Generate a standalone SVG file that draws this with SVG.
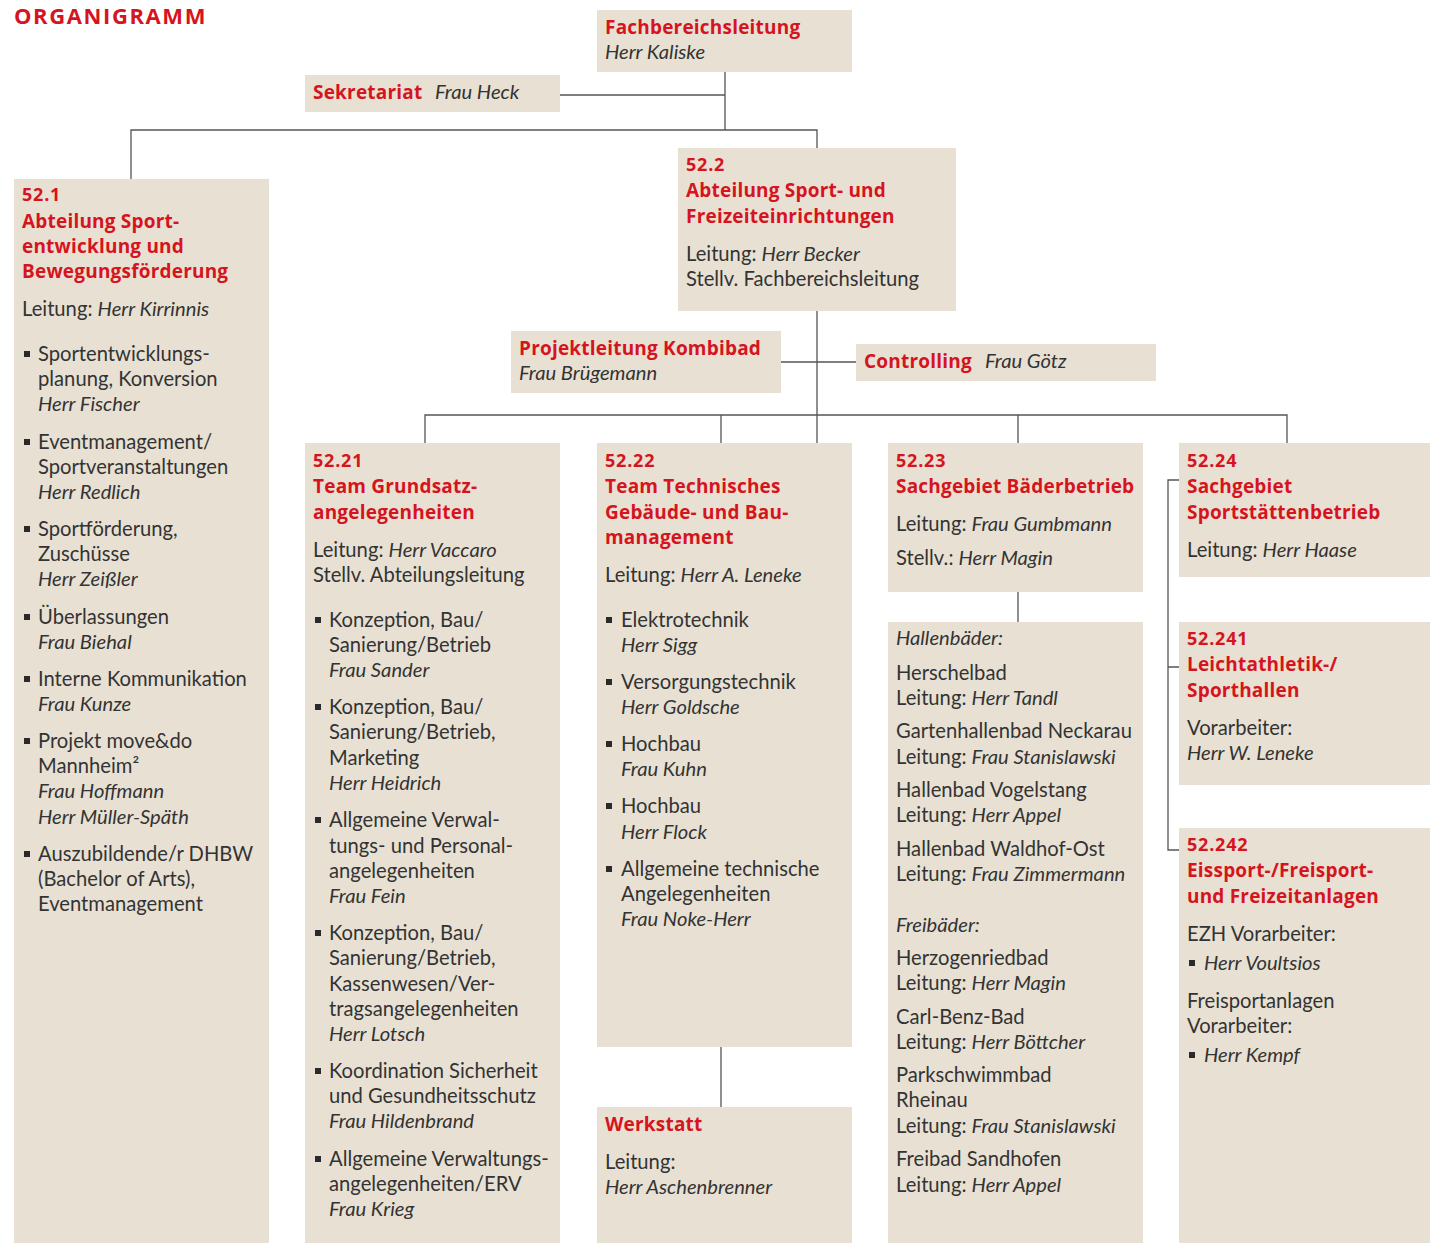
<svg xmlns="http://www.w3.org/2000/svg" xmlns:xlink="http://www.w3.org/1999/xlink" width="1430" height="1243" viewBox="0 0 1430 1243">
<style>
.bx{fill:#e8e1d3}
.ln{stroke:#555;stroke-width:1.3;fill:none}
text{font-family:Lato,"Open Sans","Liberation Sans",sans-serif;font-size:20.2px;fill:#333}
.h{font-family:"Open Sans",Lato,"Liberation Sans",sans-serif;font-weight:bold;fill:#d6141e;font-size:19px;letter-spacing:0.2px}
.n{font-family:"Open Sans",Lato,"Liberation Sans",sans-serif;font-weight:bold;fill:#d6141e;font-size:18px;letter-spacing:0.8px}
.i{font-style:italic}
.ttl{font-family:"Open Sans",Lato,"Liberation Sans",sans-serif;font-weight:bold;fill:#d6141e;font-size:22px;letter-spacing:1.6px}
.bl{fill:#2a2a2a}
</style>
<defs>
<rect id="b" width="6" height="6" class="bl"/>
</defs>
<rect width="1430" height="1243" fill="#fff"/>
<text class="ttl" x="14" y="24">ORGANIGRAMM</text>

<g id="connectors" class="ln">
<path d="M725 72V130M560 95H725M131 179V130H817V148"/>
<path d="M817 311V443M781 362H856"/>
<path d="M425 443V415H1287V443M721 415V443M1018 415V443"/>
<path d="M721 1047V1107M1018 592V622"/>
<path d="M1179 480H1168V850H1179M1168 667H1179"/>
</g>

<g id="fbl">
<rect class="bx" x="597" y="10" width="255" height="62"/>
<text class="h" x="605" y="34">Fachbereichsleitung</text>
<text class="i" x="605" y="59">Herr Kaliske</text>
</g>

<g id="sekretariat">
<rect class="bx" x="305" y="75" width="255" height="37"/>
<text x="313" y="99"><tspan class="h">Sekretariat</tspan><tspan class="i" x="435">Frau Heck</tspan></text>
</g>

<g id="n52-1">
<rect class="bx" x="14" y="179" width="255" height="1064"/>
<text class="n" x="22" y="201">52.1</text>
<text class="h" x="22" y="228">Abteilung Sport-</text>
<text class="h" x="22" y="253">entwicklung und</text>
<text class="h" x="22" y="278">Bewegungsförderung</text>
<text x="22" y="316">Leitung: <tspan class="i">Herr Kirrinnis</tspan></text>
<use href="#b" x="24" y="351"/>
<text x="38" y="361">Sportentwicklungs-</text>
<text x="38" y="386">planung, Konversion</text>
<text class="i" x="38" y="411">Herr Fischer</text>
<use href="#b" x="24" y="439"/>
<text x="38" y="449">Eventmanagement/</text>
<text x="38" y="474">Sportveranstaltungen</text>
<text class="i" x="38" y="499">Herr Redlich</text>
<use href="#b" x="24" y="526"/>
<text x="38" y="536">Sportförderung,</text>
<text x="38" y="561">Zuschüsse</text>
<text class="i" x="38" y="586">Herr Zeißler</text>
<use href="#b" x="24" y="614"/>
<text x="38" y="624">Überlassungen</text>
<text class="i" x="38" y="649">Frau Biehal</text>
<use href="#b" x="24" y="676"/>
<text x="38" y="686">Interne Kommunikation</text>
<text class="i" x="38" y="711">Frau Kunze</text>
<use href="#b" x="24" y="738"/>
<text x="38" y="748">Projekt move&amp;do</text>
<text x="38" y="773">Mannheim²</text>
<text class="i" x="38" y="798">Frau Hoffmann</text>
<text class="i" x="38" y="824">Herr Müller-Späth</text>
<use href="#b" x="24" y="851"/>
<text x="38" y="861">Auszubildende/r DHBW</text>
<text x="38" y="886">(Bachelor of Arts),</text>
<text x="38" y="911">Eventmanagement</text>
</g>

<g id="n52-2">
<rect class="bx" x="678" y="148" width="278" height="163"/>
<text class="n" x="686" y="171">52.2</text>
<text class="h" x="686" y="197">Abteilung Sport- und</text>
<text class="h" x="686" y="223">Freizeiteinrichtungen</text>
<text x="686" y="261">Leitung: <tspan class="i">Herr Becker</tspan></text>
<text x="686" y="286">Stellv. Fachbereichsleitung</text>
</g>

<g id="projektleitung">
<rect class="bx" x="511" y="331" width="270" height="62"/>
<text class="h" x="519" y="355">Projektleitung Kombibad</text>
<text class="i" x="519" y="380">Frau Brügemann</text>
</g>

<g id="controlling">
<rect class="bx" x="856" y="344" width="300" height="37"/>
<text x="864" y="368"><tspan class="h">Controlling</tspan><tspan class="i" x="985">Frau Götz</tspan></text>
</g>

<g id="n52-21">
<rect class="bx" x="305" y="443" width="255" height="800"/>
<text class="n" x="313" y="467">52.21</text>
<text class="h" x="313" y="493">Team Grundsatz-</text>
<text class="h" x="313" y="519">angelegenheiten</text>
<text x="313" y="557">Leitung: <tspan class="i">Herr Vaccaro</tspan></text>
<text x="313" y="582">Stellv. Abteilungsleitung</text>
<use href="#b" x="315" y="617"/>
<text x="329" y="627">Konzeption, Bau/</text>
<text x="329" y="652">Sanierung/Betrieb</text>
<text class="i" x="329" y="677">Frau Sander</text>
<use href="#b" x="315" y="704"/>
<text x="329" y="714">Konzeption, Bau/</text>
<text x="329" y="739">Sanierung/Betrieb,</text>
<text x="329" y="765">Marketing</text>
<text class="i" x="329" y="790">Herr Heidrich</text>
<use href="#b" x="315" y="817"/>
<text x="329" y="827">Allgemeine Verwal-</text>
<text x="329" y="853">tungs- und Personal-</text>
<text x="329" y="878">angelegenheiten</text>
<text class="i" x="329" y="903">Frau Fein</text>
<use href="#b" x="315" y="930"/>
<text x="329" y="940">Konzeption, Bau/</text>
<text x="329" y="965">Sanierung/Betrieb,</text>
<text x="329" y="991">Kassenwesen/Ver-</text>
<text x="329" y="1016">tragsangelegenheiten</text>
<text class="i" x="329" y="1041">Herr Lotsch</text>
<use href="#b" x="315" y="1068"/>
<text x="329" y="1078">Koordination Sicherheit</text>
<text x="329" y="1103">und Gesundheitsschutz</text>
<text class="i" x="329" y="1128">Frau Hildenbrand</text>
<use href="#b" x="315" y="1156"/>
<text x="329" y="1166">Allgemeine Verwaltungs-</text>
<text x="329" y="1191">angelegenheiten/ERV</text>
<text class="i" x="329" y="1216">Frau Krieg</text>
</g>

<g id="n52-22">
<rect class="bx" x="597" y="443" width="255" height="604"/>
<text class="n" x="605" y="467">52.22</text>
<text class="h" x="605" y="493">Team Technisches</text>
<text class="h" x="605" y="519">Gebäude- und Bau-</text>
<text class="h" x="605" y="544">management</text>
<text x="605" y="582">Leitung: <tspan class="i">Herr A. Leneke</tspan></text>
<use href="#b" x="606" y="617"/>
<text x="621" y="627">Elektrotechnik</text>
<text class="i" x="621" y="652">Herr Sigg</text>
<use href="#b" x="606" y="679"/>
<text x="621" y="689">Versorgungstechnik</text>
<text class="i" x="621" y="714">Herr Goldsche</text>
<use href="#b" x="606" y="741"/>
<text x="621" y="751">Hochbau</text>
<text class="i" x="621" y="776">Frau Kuhn</text>
<use href="#b" x="606" y="803"/>
<text x="621" y="813">Hochbau</text>
<text class="i" x="621" y="839">Herr Flock</text>
<use href="#b" x="606" y="866"/>
<text x="621" y="876">Allgemeine technische</text>
<text x="621" y="901">Angelegenheiten</text>
<text class="i" x="621" y="926">Frau Noke-Herr</text>
</g>

<g id="werkstatt">
<rect class="bx" x="597" y="1107" width="255" height="136"/>
<text class="h" x="605" y="1131">Werkstatt</text>
<text x="605" y="1169">Leitung:</text>
<text class="i" x="605" y="1194">Herr Aschenbrenner</text>
</g>

<g id="n52-23">
<rect class="bx" x="888" y="443" width="255" height="149"/>
<text class="n" x="896" y="467">52.23</text>
<text class="h" x="896" y="493">Sachgebiet Bäderbetrieb</text>
<text x="896" y="531">Leitung: <tspan class="i">Frau Gumbmann</tspan></text>
<text x="896" y="565">Stellv.: <tspan class="i">Herr Magin</tspan></text>
</g>

<g id="baeder">
<rect class="bx" x="888" y="622" width="255" height="621"/>
<text class="i" x="896" y="645">Hallenbäder:</text>
<text x="896" y="680">Herschelbad</text>
<text x="896" y="705">Leitung: <tspan class="i">Herr Tandl</tspan></text>
<text x="896" y="738">Gartenhallenbad Neckarau</text>
<text x="896" y="764">Leitung: <tspan class="i">Frau Stanislawski</tspan></text>
<text x="896" y="797">Hallenbad Vogelstang</text>
<text x="896" y="822">Leitung: <tspan class="i">Herr Appel</tspan></text>
<text x="896" y="856">Hallenbad Waldhof-Ost</text>
<text x="896" y="881">Leitung: <tspan class="i">Frau Zimmermann</tspan></text>
<text class="i" x="896" y="932">Freibäder:</text>
<text x="896" y="965">Herzogenriedbad</text>
<text x="896" y="990">Leitung: <tspan class="i">Herr Magin</tspan></text>
<text x="896" y="1024">Carl-Benz-Bad</text>
<text x="896" y="1049">Leitung: <tspan class="i">Herr Böttcher</tspan></text>
<text x="896" y="1082">Parkschwimmbad</text>
<text x="896" y="1107">Rheinau</text>
<text x="896" y="1133">Leitung: <tspan class="i">Frau Stanislawski</tspan></text>
<text x="896" y="1166">Freibad Sandhofen</text>
<text x="896" y="1192">Leitung: <tspan class="i">Herr Appel</tspan></text>
</g>

<g id="n52-24">
<rect class="bx" x="1179" y="443" width="251" height="134"/>
<text class="n" x="1187" y="467">52.24</text>
<text class="h" x="1187" y="493">Sachgebiet</text>
<text class="h" x="1187" y="519">Sportstättenbetrieb</text>
<text x="1187" y="557">Leitung: <tspan class="i">Herr Haase</tspan></text>
</g>

<g id="n52-241">
<rect class="bx" x="1179" y="622" width="251" height="163"/>
<text class="n" x="1187" y="645">52.241</text>
<text class="h" x="1187" y="671">Leichtathletik-/</text>
<text class="h" x="1187" y="697">Sporthallen</text>
<text x="1187" y="735">Vorarbeiter:</text>
<text class="i" x="1187" y="760">Herr W. Leneke</text>
</g>

<g id="n52-242">
<rect class="bx" x="1179" y="828" width="251" height="415"/>
<text class="n" x="1187" y="851">52.242</text>
<text class="h" x="1187" y="877">Eissport-/Freisport-</text>
<text class="h" x="1187" y="903">und Freizeitanlagen</text>
<text x="1187" y="941">EZH Vorarbeiter:</text>
<use href="#b" x="1189" y="960"/>
<text class="i" x="1204" y="970">Herr Voultsios</text>
<text x="1187" y="1008">Freisportanlagen</text>
<text x="1187" y="1033">Vorarbeiter:</text>
<use href="#b" x="1189" y="1052"/>
<text class="i" x="1204" y="1062">Herr Kempf</text>
</g>
</svg>
